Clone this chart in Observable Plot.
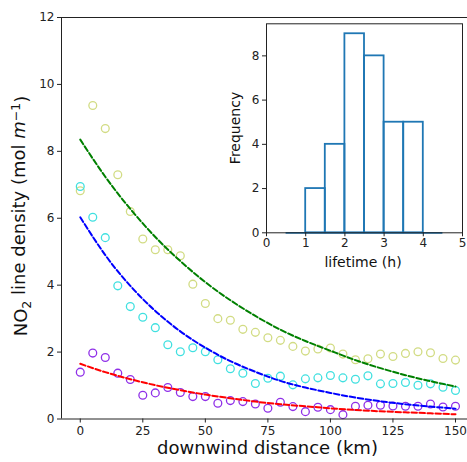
<!DOCTYPE html>
<html>
<head>
<meta charset="utf-8">
<script src="https://cdn.jsdelivr.net/npm/d3@7"></script>
<script src="https://cdn.jsdelivr.net/npm/@observablehq/plot@0.6"></script>
<style>
  html, body { margin: 0; padding: 0; background: white; }
  #wrap { position: relative; width: 467px; height: 462px; overflow: hidden; }
  #inset { position: absolute; left: 220px; top: 0px; }
  svg { font-family: "DejaVu Sans", sans-serif; }
</style>
</head>
<body>
<div id="wrap"><div id="main"></div><div id="inset"></div></div>
<script>
// ---- data ----
const distanceKm = [0,5,10,15,20,25,30,35,40,45,50,55,60,65,70,75,80,85,90,95,100,105,110,115,120,125,130,135,140,145,150];
const densityHigh = [6.82,9.37,8.68,7.30,6.20,5.38,5.06,5.06,4.88,4.03,3.45,3.00,2.95,2.68,2.59,2.43,2.35,2.17,2.03,2.09,2.12,1.94,1.77,1.80,1.94,1.87,1.96,2.01,1.98,1.81,1.76];
const densityMid  = [6.95,6.03,5.42,3.98,3.36,3.04,2.73,2.22,2.01,2.13,2.01,1.77,1.50,1.37,1.06,1.22,1.28,1.02,1.20,1.23,1.30,1.23,1.19,1.29,1.05,1.06,1.09,1.01,1.05,0.95,0.85];
const densityLow  = [1.40,1.97,1.84,1.37,1.18,0.71,0.78,0.94,0.79,0.67,0.67,0.47,0.55,0.52,0.45,0.32,0.50,0.37,0.22,0.35,0.28,0.13,0.38,0.41,0.41,0.39,0.38,0.38,0.45,0.36,0.38];

const fitDistanceKm = [0,10,20,30,40,50,60,70,80,90,100,110,120,130,140,150];
const fitHigh = [8.35,7.24,6.28,5.44,4.72,4.09,3.55,3.08,2.67,2.33,2.04,1.76,1.52,1.31,1.13,0.97];
const fitMid  = [6.03,4.90,3.98,3.23,2.62,2.13,1.73,1.41,1.14,0.94,0.78,0.64,0.53,0.44,0.37,0.31];
const fitLow  = [1.65,1.40,1.19,1.01,0.86,0.73,0.62,0.52,0.44,0.38,0.32,0.27,0.23,0.20,0.17,0.14];

const xTicks = [0,25,50,75,100,125,150];
const yTicks = [0,2,4,6,8,10,12];

const lifetimeBinEdges = [0.5,1,1.5,2,2.5,3,3.5,4,4.5];
const lifetimeCounts = [0,2,4,9,8,5,5,0];
const insetXTicks = [0,1,2,3,4,5];
const insetYTicks = [0,2,4,6,8];

// ---- tables ----
const pts = (ys) => distanceKm.map((d, i) => ({x: d, y: ys[i]}));
const fit = (ys) => fitDistanceKm.map((d, i) => ({x: d, y: ys[i]}));
const bins = lifetimeCounts.map((c, i) => ({x1: lifetimeBinEdges[i], x2: lifetimeBinEdges[i+1], y: c}));

const colHigh = "#d2dc84", colMid = "#40e0e0", colLow = "#8f2fe8";
const dot = (ys, c) => Plot.dot(pts(ys), {x: "x", y: "y", r: 3.9, stroke: c, strokeWidth: 1.3, fill: "none"});
const dash = (ys, c) => Plot.line(fit(ys), {x: "x", y: "y", stroke: c, strokeWidth: 2, strokeDasharray: "5.5,2.5", curve: "natural"});

const main = Plot.plot({
  width: 467, height: 462,
  marginLeft: 61, marginTop: 17, marginBottom: 43.5, marginRight: 0,
  style: {fontFamily: "DejaVu Sans", fontSize: "12px", background: "white", color: "#222"},
  x: {domain: [-7.5, 157.5], range: [61, 473.75]},
  y: {domain: [0, 12], range: [418.5, 17]},
  marks: [
    dot(densityHigh, colHigh),
    dot(densityMid, colMid),
    dot(densityLow, colLow),
    dash(fitHigh, "green"),
    dash(fitMid, "blue"),
    dash(fitLow, "red"),
    Plot.ruleY([0, 12], {stroke: "#222", strokeWidth: 1}),
    Plot.ruleX([-7.5], {stroke: "#222", strokeWidth: 1}),
    Plot.axisX({ticks: xTicks, tickSize: 4, tickPadding: 3, tickFormat: "d", label: null, stroke: "#222"}),
    Plot.axisY({ticks: yTicks, tickSize: 4, tickPadding: 3, tickFormat: "d", label: null, stroke: "#222"})
  ]
});
document.getElementById("main").appendChild(main);
const ms = d3.select(main);
ms.append("text").attr("x", 267.5).attr("y", 454).attr("text-anchor", "middle")
  .style("font-size", "18px").attr("fill", "#111").text("downwind distance (km)");
const yl = ms.append("text").attr("transform", "translate(27,216) rotate(-90)")
  .attr("text-anchor", "middle").style("font-size", "18px").attr("fill", "#111");
yl.append("tspan").text("NO");
yl.append("tspan").attr("dy", "0.3em").style("font-size", "12.5px").text("2");
yl.append("tspan").attr("dy", "-0.3em").text(" line density (mol ");
yl.append("tspan").style("font-style", "italic").text("m");
yl.append("tspan").attr("dy", "-0.45em").style("font-size", "12.5px").text("−1");
yl.append("tspan").attr("dy", "0.45em").text(")");

const inset = Plot.plot({
  width: 247, height: 275,
  marginLeft: 46, marginTop: 23.3, marginRight: 5, marginBottom: 42.7,
  style: {fontFamily: "DejaVu Sans", fontSize: "12px", background: "transparent", color: "#222", overflow: "visible"},
  x: {domain: [0, 5]},
  y: {domain: [0, 9.45]},
  marks: [
    Plot.frame({fill: "white", stroke: "none"}),
    Plot.rectY(bins, {x1: "x1", x2: "x2", y: "y", fill: "none", stroke: "#1f77b4", strokeWidth: 1.8}),
    Plot.ruleY([0], {x1: 0.5, x2: 4.5, stroke: "#1f77b4", strokeWidth: 1.8}),
    Plot.frame({stroke: "#222", strokeWidth: 1}),
    Plot.axisX({ticks: insetXTicks, tickSize: 4, tickPadding: 2, tickFormat: "d", label: null, stroke: "#222"}),
    Plot.axisY({ticks: insetYTicks, tickSize: 4, tickPadding: 3, tickFormat: "d", label: null, stroke: "#222"})
  ]
});
document.getElementById("inset").appendChild(inset);
const is = d3.select(inset);
is.append("text").attr("x", 143).attr("y", 267).attr("text-anchor", "middle")
  .style("font-size", "14px").attr("fill", "#111").text("lifetime (h)");
is.append("text").attr("transform", "translate(20,128) rotate(-90)").attr("text-anchor", "middle")
  .style("font-size", "14px").attr("fill", "#111").text("Frequency");
</script>
</body>
</html>
